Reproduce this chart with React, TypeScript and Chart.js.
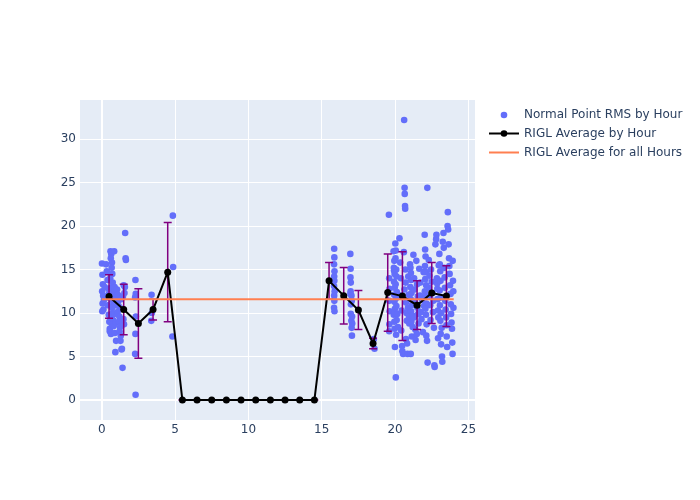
import React, { useEffect, useRef } from "react";
import { Chart, registerables } from "chart.js";

Chart.register(...registerables);

// Hour centres for the per-hour average
const hourX = [0.5, 1.5, 2.5, 3.5, 4.5, 5.5, 6.5, 7.5, 8.5, 9.5, 10.5, 11.5, 12.5, 13.5, 14.5, 15.5, 16.5, 17.5, 18.5, 19.5, 20.5, 21.5, 22.5, 23.5];
const hourAvg = [11.9, 10.4, 8.8, 10.4, 14.7, 0, 0, 0, 0, 0, 0, 0, 0, 0, 0, 13.7, 12.0, 10.35, 6.5, 12.35, 11.95, 10.9, 12.3, 11.95];
const hourErr = [2.5, 2.9, 4.0, 1.2, 5.7, 0, 0, 0, 0, 0, 0, 0, 0, 0, 0, 2.1, 3.25, 2.25, 0.6, 4.45, 5.1, 2.8, 3.5, 3.5];

const overallAvg = 11.6;
const overallX = [0, 24];

// Normal point RMS samples: x = hour of day, y = RMS
const rmsX = [
  0.02, 0.05, 0.08, 0.03, 0.1, 0.06, 0.12, 0.04, 0.15, 0.2,
  0.3, 0.35, 0.4, 0.45, 0.5, 0.38, 0.42, 0.48, 0.52, 0.55,
  0.6, 0.65, 0.62, 0.7, 0.68, 0.72, 0.58, 0.75, 0.64, 0.78,
  0.66, 0.8, 0.71, 0.74, 0.6, 0.77, 0.69, 0.55, 0.63, 0.82,
  0.85, 0.88, 0.9, 0.92, 0.95, 0.86, 0.97, 0.9, 0.98, 0.93,
  1.05, 1.1, 1.12, 1.15, 1.08, 1.2, 1.18, 1.25, 1.22, 1.3, 1.28, 1.35, 1.38, 1.42, 1.5, 1.55, 1.6, 1.63, 1.65, 1.45, 1.4, 1.33, 1.52, 1.48, 1.58,
  2.3, 2.32, 2.28, 2.33, 2.3, 2.28, 2.31,
  3.4, 3.42, 3.38,
  4.85, 4.87, 4.82,
  15.85, 15.86, 15.84, 15.87, 15.85, 15.86, 15.84, 15.88, 15.85, 15.86, 15.84, 15.87,
  16.95, 16.97, 16.96, 16.98, 16.97, 16.96, 16.99, 16.98,
  17.02, 17.04, 17.06, 17.05, 17.03, 17.07, 17.08,
  18.55, 18.6,
  19.58, 19.6, 19.62, 19.6, 19.63, 19.61, 19.6, 19.9, 19.95, 19.92, 19.97, 19.93, 19.98, 19.94, 19.96, 19.99, 19.91, 19.95, 19.97, 19.93, 19.98, 19.99,
  20.02, 20.05, 20.03, 20.08, 20.1, 20.04, 20.12, 20.06, 20.09, 20.15, 20.11, 20.2, 20.07, 20.05, 20.3, 20.35, 20.4, 20.38, 20.45, 20.42, 20.48, 20.5, 20.55, 20.62, 20.65, 20.66, 20.68, 20.69, 20.6, 20.7, 20.72, 20.64, 20.75, 20.78, 20.8, 20.74, 20.82, 20.85, 20.9, 20.92, 20.95, 20.88, 20.97,
  21.02, 21.05, 21.08, 21.1, 21.04, 21.12, 21.06, 21.15, 21.09, 21.18, 21.11, 21.2, 21.14, 21.07, 21.25, 21.3, 21.32, 21.35, 21.28, 21.38, 21.4, 21.45, 21.5, 21.55, 21.52, 21.58, 21.6, 21.48, 21.65, 21.7, 21.75, 21.8, 21.72, 21.85, 21.9, 21.95, 21.98,
  22.02, 22.05, 22.08, 22.04, 22.1, 22.06, 22.12, 22.03, 22.09, 22.14, 22.07, 22.11, 22.15, 22.13, 22.2, 22.18, 22.22, 22.3, 22.35, 22.32, 22.38, 22.4, 22.42, 22.45, 22.5, 22.55, 22.6, 22.58, 22.65, 22.7, 22.68, 22.75, 22.8, 22.82, 22.85, 22.88, 22.9, 22.92, 22.95, 22.98, 22.87, 22.93,
  23.02, 23.05, 23.08, 23.1, 23.04, 23.12, 23.06, 23.15, 23.09, 23.18, 23.11, 23.14, 23.2, 23.22, 23.25, 23.3, 23.32, 23.35, 23.38, 23.4, 23.42, 23.45, 23.48, 23.5, 23.52, 23.55, 23.58, 23.6, 23.62, 23.65, 23.68, 23.7, 23.72, 23.75, 23.78, 23.8, 23.82, 23.85, 23.88, 23.9, 23.92, 23.95, 23.97, 23.98, 23.93,
];
const rmsY = [
  15.7, 14.4, 13.3, 12.5, 12.0, 11.1, 10.4, 10.2, 11.5, 13.0,
  15.6, 14.8, 13.8, 12.8, 12.2, 11.8, 10.9, 9.8, 9.0, 8.2,
  17.1, 16.8, 16.3, 15.8, 15.2, 14.5, 14.0, 13.5, 12.9, 12.4,
  11.6, 11.2, 10.6, 10.0, 9.5, 9.2, 8.7, 7.9, 7.6, 8.5,
  17.1, 13.0, 12.6, 11.8, 10.9, 9.9, 8.9, 7.7, 6.8, 5.5,
  12.7, 12.1, 11.4, 10.8, 10.1, 9.6, 9.0, 8.4, 7.9, 7.4, 6.8, 5.8, 5.9, 3.7, 13.2, 12.3, 19.2, 16.3, 16.1, 11.9, 10.5, 11.6, 8.7, 9.3, 13.0,
  13.8, 12.2, 11.8, 9.6, 7.6, 5.3, 0.6,
  12.1, 10.0, 9.1,
  21.2, 15.3, 7.3,
  17.4, 16.4, 15.6, 14.8, 14.2, 13.7, 13.1, 12.5, 12.0, 11.4, 10.6, 10.2,
  16.8, 15.1, 14.1, 13.5, 12.5, 12.2, 11.0, 9.9,
  9.1, 8.3, 7.4, 11.4, 12.0, 9.6, 8.8,
  7.0, 5.9,
  21.3, 14.0, 12.8, 11.4, 10.2, 8.7, 7.9, 17.1, 16.0, 15.2, 14.5, 13.6, 12.9, 12.1, 11.3, 10.5, 9.8, 9.0, 8.2, 14.9, 10.0, 6.1,
  18.0, 17.2, 16.3, 15.0, 14.2, 13.3, 12.4, 11.7, 10.8, 9.9, 9.2, 8.4, 7.5, 2.6, 18.6, 15.8, 14.0, 12.0, 10.3, 8.0, 6.2, 5.6, 5.3, 32.2, 24.4, 23.7, 22.3, 22.0, 17.0, 15.0, 13.5, 12.7, 11.2, 10.0, 9.1, 7.0, 6.5, 5.3, 14.2, 12.1, 9.6, 10.6, 8.8,
  15.6, 15.2, 14.6, 13.8, 13.0, 12.3, 11.6, 10.9, 10.2, 9.7, 9.0, 8.4, 7.3, 5.3, 16.7, 14.0, 12.7, 11.3, 9.5, 8.1, 6.9, 16.0, 13.3, 11.9, 10.6, 9.9, 8.8, 7.6, 15.1, 12.0, 10.1, 9.3, 13.5, 11.5, 7.8, 14.7, 10.8,
  19.0, 17.3, 16.5, 15.4, 14.7, 13.9, 13.2, 12.5, 11.9, 11.1, 10.5, 9.8, 8.7, 7.4, 24.4, 6.8, 4.3, 16.1, 14.3, 12.9, 12.0, 10.9, 9.2, 15.0, 13.6, 12.3, 11.4, 10.1, 8.3, 3.8, 4.0, 17.9, 18.5, 19.0, 14.0, 12.8, 11.6, 10.3, 9.5, 15.5, 13.4, 7.1,
  16.8, 15.6, 14.8, 13.7, 12.6, 11.8, 10.9, 10.0, 9.1, 8.3, 7.6, 6.4, 5.0, 4.4, 18.2, 19.2, 17.5, 15.2, 14.1, 12.9, 11.4, 10.4, 9.5, 8.6, 7.3, 6.1, 20.0, 21.6, 19.6, 17.9, 16.3, 15.4, 14.5, 13.2, 12.2, 11.0, 9.9, 8.9, 8.2, 6.6, 5.3, 13.7, 12.5, 10.6, 16.0,
];

const xTicks = [0, 5, 10, 15, 20, 25];
const yTicks = [0, 5, 10, 15, 20, 25, 30];

const legendLabels = ["Normal Point RMS by Hour", "RIGL Average by Hour", "RIGL Average for all Hours"];

const FONT = "DejaVu Sans";
const TEXT = "#2a3f5f";
const BLUE = "#636EFA";
const CORAL = "#FF7F50";
const PURPLE = "#800080";

const errorBarPlugin = {
  id: "errorBars",
  beforeDatasetDraw(chart: any, args: any) {
    if (args.index !== 1) return;
    const ctx = chart.ctx;
    const xs = chart.scales.x;
    const ys = chart.scales.y;
    ctx.save();
    ctx.strokeStyle = PURPLE;
    ctx.lineWidth = 1.5;
    for (let i = 0; i < hourX.length; i++) {
      const px = xs.getPixelForValue(hourX[i]);
      const top = ys.getPixelForValue(hourAvg[i] + hourErr[i]);
      const bot = ys.getPixelForValue(hourAvg[i] - hourErr[i]);
      ctx.beginPath();
      ctx.moveTo(px, top);
      ctx.lineTo(px, bot);
      ctx.moveTo(px - 4, top);
      ctx.lineTo(px + 4, top);
      ctx.moveTo(px - 4, bot);
      ctx.lineTo(px + 4, bot);
      ctx.stroke();
    }
    ctx.restore();
  },
};

const legendPlugin = {
  id: "customLegend",
  afterDraw(chart: any) {
    const ctx = chart.ctx;
    ctx.save();
    ctx.font = `12px "${FONT}"`;
    ctx.textBaseline = "middle";
    ctx.textAlign = "left";
    const ys = [115, 133.5, 152.5];
    ctx.fillStyle = BLUE;
    ctx.beginPath();
    ctx.arc(504, ys[0], 3.3, 0, Math.PI * 2);
    ctx.fill();
    ctx.strokeStyle = "#000";
    ctx.lineWidth = 2;
    ctx.beginPath();
    ctx.moveTo(489, ys[1]);
    ctx.lineTo(519, ys[1]);
    ctx.stroke();
    ctx.fillStyle = "#000";
    ctx.beginPath();
    ctx.arc(504, ys[1], 3.3, 0, Math.PI * 2);
    ctx.fill();
    ctx.strokeStyle = CORAL;
    ctx.beginPath();
    ctx.moveTo(489, ys[2]);
    ctx.lineTo(519, ys[2]);
    ctx.stroke();
    ctx.fillStyle = TEXT;
    legendLabels.forEach((t, i) => ctx.fillText(t, 524, ys[i]));
    ctx.restore();
  },
};

const bgPlugin = {
  id: "plotBg",
  beforeDraw(chart: any) {
    const { ctx, chartArea } = chart;
    ctx.save();
    ctx.fillStyle = "#ffffff";
    ctx.fillRect(0, 0, chart.width, chart.height);
    ctx.fillStyle = "#E5ECF6";
    ctx.fillRect(chartArea.left, chartArea.top, chartArea.right - chartArea.left, chartArea.bottom - chartArea.top);
    ctx.restore();
  },
};

export default function App() {
  const ref = useRef<HTMLCanvasElement | null>(null);
  useEffect(() => {
    if (!ref.current) return;
    const scatterData = rmsX.map((x, i) => ({ x, y: rmsY[i] }));
    const avgData = hourX.map((x, i) => ({ x, y: hourAvg[i] }));
    const allData = overallX.map((x) => ({ x, y: overallAvg }));
    const chart = new Chart(ref.current, {
      type: "scatter",
      data: {
        datasets: [
          {
            label: legendLabels[0],
            data: scatterData,
            backgroundColor: BLUE,
            borderWidth: 0,
            pointRadius: 3.3,
            order: 3,
          },
          {
            label: legendLabels[1],
            data: avgData,
            showLine: true,
            borderColor: "#000",
            borderWidth: 2,
            backgroundColor: "#000",
            pointBackgroundColor: "#000",
            pointBorderWidth: 0,
            pointRadius: 3.5,
            order: 2,
          } as any,
          {
            label: legendLabels[2],
            data: allData,
            showLine: true,
            borderColor: CORAL,
            borderWidth: 2,
            pointRadius: 0,
            order: 1,
          } as any,
        ],
      },
      options: {
        responsive: false,
        animation: false,
        layout: { padding: { top: 100, right: 225, left: 0, bottom: 0 } },
        plugins: { legend: { display: false }, tooltip: { enabled: false } },
        scales: {
          x: {
            type: "linear",
            min: -1.48,
            max: 25.45,
            afterBuildTicks: (s: any) => {
              s.ticks = xTicks.map((v) => ({ value: v }));
            },
            afterFit: (s: any) => {
              s.height = 80;
            },
            grid: {
              color: "#ffffff",
              lineWidth: (c: any) => (c.tick && c.tick.value === 0 ? 2 : 1),
              drawTicks: false,
            },
            border: { display: false },
            ticks: {
              color: TEXT,
              font: { family: FONT, size: 12 },
              padding: 3,
              maxRotation: 0,
            },
          },
          y: {
            type: "linear",
            min: -2.3,
            max: 34.5,
            afterBuildTicks: (s: any) => {
              s.ticks = yTicks.map((v) => ({ value: v }));
            },
            afterFit: (s: any) => {
              s.width = 80;
            },
            grid: {
              color: "#ffffff",
              lineWidth: (c: any) => (c.tick && c.tick.value === 0 ? 2 : 1),
              drawTicks: false,
            },
            border: { display: false },
            ticks: {
              color: TEXT,
              font: { family: FONT, size: 12 },
              padding: 4,
            },
          },
        },
      },
      plugins: [bgPlugin, errorBarPlugin, legendPlugin],
    });
    return () => chart.destroy();
  }, []);
  return (
    <div style={{ position: "absolute", left: 0, top: 0, width: 700, height: 500, background: "#fff" }}>
      <canvas ref={ref} width={700} height={500} style={{ display: "block" }} />
    </div>
  );
}
